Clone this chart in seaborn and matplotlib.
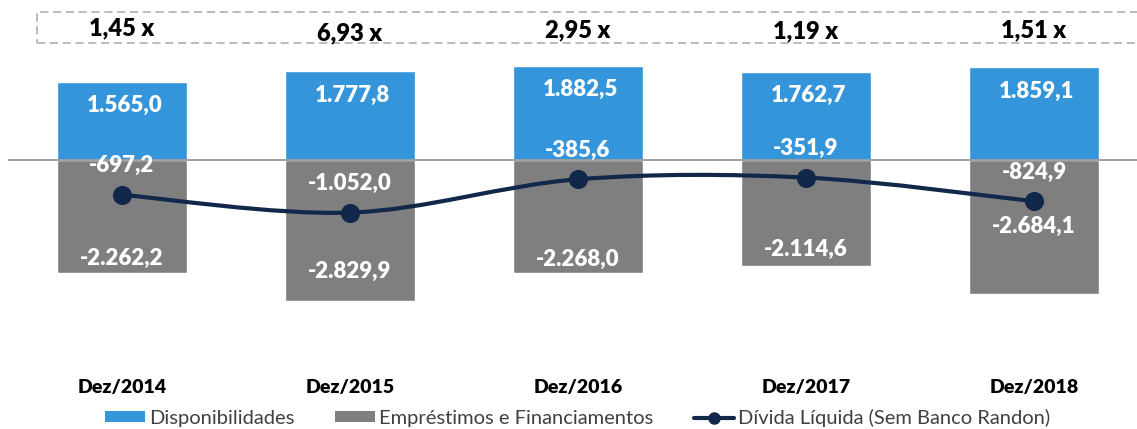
import numpy as np
import pandas as pd
import matplotlib
matplotlib.use("Agg")
import matplotlib.pyplot as plt
from matplotlib.path import Path
from matplotlib.patches import PathPatch, Rectangle, Patch
from matplotlib.lines import Line2D
import seaborn as sns

# ---------------- data ----------------
categories = ["Dez/2014", "Dez/2015", "Dez/2016", "Dez/2017", "Dez/2018"]
disponibilidades = [1565.0, 1777.8, 1882.5, 1762.7, 1859.1]
emprestimos = [-2262.2, -2829.9, -2268.0, -2114.6, -2684.1]
divida_liquida = [-697.2, -1052.0, -385.6, -351.9, -824.9]
ratios = ["1,45 x", "6,93 x", "2,95 x", "1,19 x", "1,51 x"]
series_names = ["Disponibilidades", "Empréstimos e Financiamentos",
                "Dívida Líquida (Sem Banco Randon)"]

# ---------------- layout / style ----------------
BLUE = "#3595DA"
GRAY = "#7F7F7F"
NAVY = "#12284A"
gray_label_offset_px = [15, 30, 14, 16, 68]   # label distance above bar bottom
ratio_y_px = [28, 33, 30, 31, 30]             # vertical position of ratio labels

def fmt(v):
    s = f"{v:,.1f}"
    return s.replace(",", "X").replace(".", ",").replace("X", ".")

sns.set_style("white")
plt.rcParams["font.family"] = ["Lato", "DejaVu Sans"]

fig = plt.figure(figsize=(11.37, 4.29), dpi=100)
ax = fig.add_axes([8 / 1137, 0, 1 - 8 / 1137, 1])

df = pd.DataFrame({"cat": categories, "disp": disponibilidades,
                   "emp": emprestimos, "net": divida_liquida})

sns.barplot(data=df, x="cat", y="disp", color=BLUE, saturation=1,
            width=0.57, ax=ax, zorder=2)
sns.barplot(data=df, x="cat", y="emp", color=GRAY, saturation=1,
            width=0.57, ax=ax, zorder=2)

ax.set_xlim(-0.5, 4.452)
ax.set_ylim(-5380, 3200)
ax.axhline(0, color="#9A9A9A", lw=1.3, zorder=3)

# smooth line (Excel-like Bezier smoothing) through the net debt values
xs = np.arange(len(categories), dtype=float)
ys = np.array(divida_liquida)
pts = np.column_stack([xs, ys])
verts = [pts[0]]
codes = [Path.MOVETO]
n = len(pts)
for i in range(n - 1):
    p0 = pts[max(i - 1, 0)]
    p1 = pts[i]
    p2 = pts[i + 1]
    p3 = pts[min(i + 2, n - 1)]
    c1 = p1 + (p2 - p0) / 6.0
    c2 = p2 - (p3 - p1) / 6.0
    verts += [c1, c2, p2]
    codes += [Path.CURVE4] * 3
ax.add_patch(PathPatch(Path(verts, codes), fill=False, edgecolor=NAVY,
                       lw=3, zorder=4, capstyle="round"))
sns.scatterplot(data=df, x=np.arange(len(categories)), y="net", color=NAVY,
                s=190, edgecolor=NAVY, linewidth=0, ax=ax, zorder=5)

# value labels
for i in range(len(categories)):
    ax.annotate(fmt(disponibilidades[i]), (i, disponibilidades[i]),
                xytext=(2, -24 * 0.72), textcoords="offset points",
                ha="center", va="center", color="white",
                fontsize=16, fontweight="heavy", zorder=6)
    ax.annotate(fmt(emprestimos[i]), (i, emprestimos[i]),
                xytext=(0, gray_label_offset_px[i] * 0.72),
                textcoords="offset points",
                ha="center", va="center", color="white",
                fontsize=16, fontweight="heavy", zorder=6)
    ax.annotate(fmt(divida_liquida[i]), (i, divida_liquida[i]),
                xytext=(0, 29 * 0.72), textcoords="offset points",
                ha="center", va="center", color="white",
                fontsize=16, fontweight="heavy", zorder=6)
    ax.text(i, (160 - ratio_y_px[i]) * 20, ratios[i], ha="center",
            va="center", color="black", fontsize=17, fontweight="heavy",
            zorder=6)
    ax.text(i, -4560, categories[i], ha="center", va="center",
            color="black", fontsize=14, fontweight="heavy")

# dashed box around ratios
ax.add_patch(Rectangle((-0.373, 2340), 5.2, 620, fill=False,
                       edgecolor="#B5B5B5", lw=1.3,
                       linestyle=(0, (4.5, 2.6)), zorder=1))

ax.set_axis_off()

handles = [Patch(facecolor=BLUE, edgecolor="none"),
           Patch(facecolor=GRAY, edgecolor="none"),
           Line2D([0], [0], color=NAVY, lw=3, marker="o", markersize=8)]
fig.legend(handles, series_names, ncol=3, loc="center",
           bbox_to_anchor=(0.508, 0.026), frameon=False, fontsize=14.5,
           handlelength=2.0, handleheight=0.45, handletextpad=0.2,
           columnspacing=2.0, labelcolor="#404040", borderpad=0)

fig.savefig("out.png", dpi=100)
